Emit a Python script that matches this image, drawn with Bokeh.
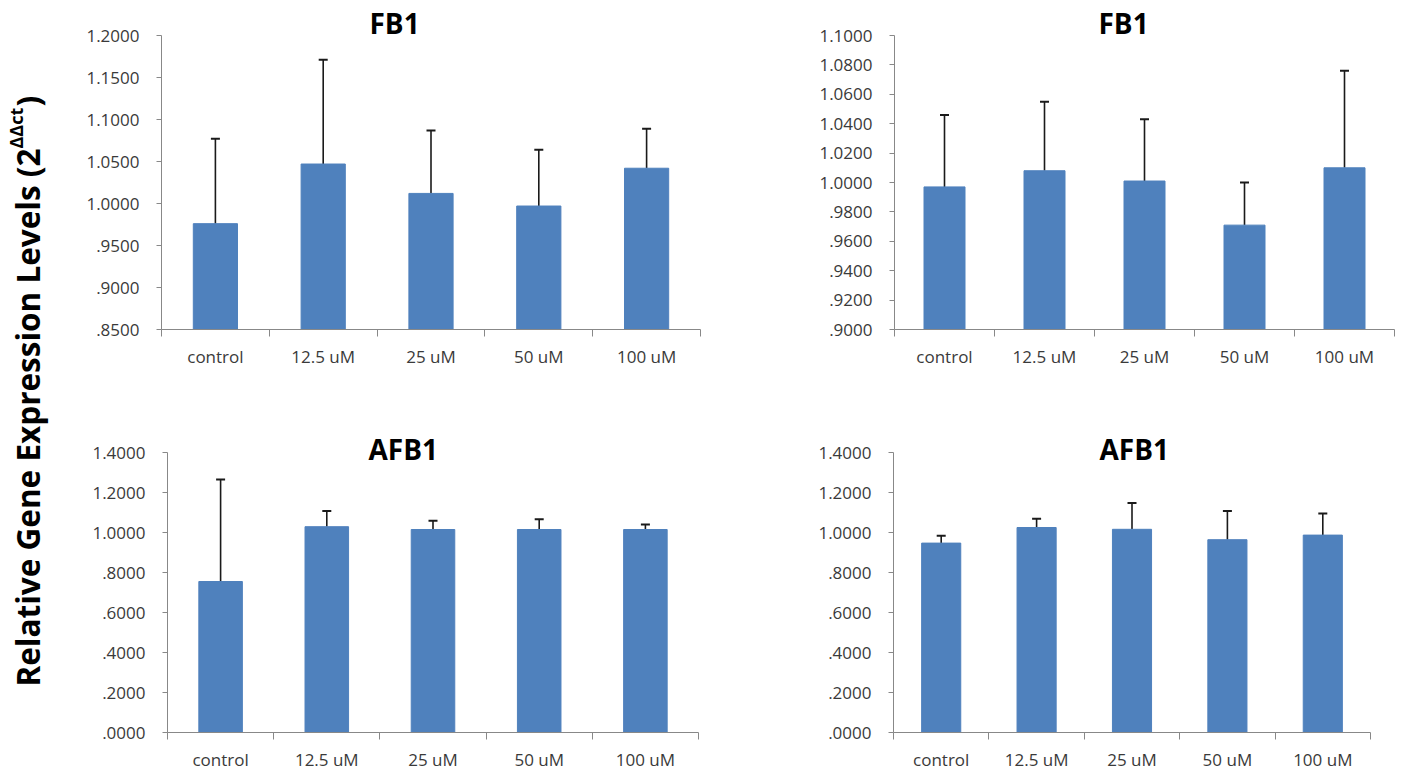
import math
from bokeh.plotting import figure
from bokeh.models import (ColumnDataSource, Range1d, LinearAxis, FixedTicker,
                          Whisker, TeeHead, Label, Title)
from bokeh.layouts import row, column
from bokeh.embed import file_html
from bokeh.resources import INLINE

# ---------------- data ----------------
categories = ["control", "12.5 uM", "25 uM", "50 uM", "100 uM"]

fb1_left_values = [0.976, 1.047, 1.012, 0.997, 1.042]
fb1_left_errors = [0.101, 0.124, 0.075, 0.067, 0.047]

fb1_right_values = [0.997, 1.008, 1.001, 0.971, 1.010]
fb1_right_errors = [0.049, 0.047, 0.042, 0.029, 0.066]

afb1_left_values = [0.755, 1.029, 1.015, 1.015, 1.015]
afb1_left_errors = [0.510, 0.079, 0.044, 0.051, 0.025]

afb1_right_values = [0.947, 1.025, 1.016, 0.964, 0.987]
afb1_right_errors = [0.037, 0.044, 0.132, 0.143, 0.108]

fb1_left_ticks = [0.85, 0.90, 0.95, 1.00, 1.05, 1.10, 1.15, 1.20]
fb1_left_tick_labels = [".8500", ".9000", ".9500", "1.0000", "1.0500", "1.1000", "1.1500", "1.2000"]
fb1_right_ticks = [0.90, 0.92, 0.94, 0.96, 0.98, 1.00, 1.02, 1.04, 1.06, 1.08, 1.10]
fb1_right_tick_labels = [".9000", ".9200", ".9400", ".9600", ".9800", "1.0000",
                         "1.0200", "1.0400", "1.0600", "1.0800", "1.1000"]
afb1_ticks = [0.0, 0.2, 0.4, 0.6, 0.8, 1.0, 1.2, 1.4]
afb1_tick_labels = [".0000", ".2000", ".4000", ".6000", ".8000", "1.0000", "1.2000", "1.4000"]

titles = ["FB1", "FB1", "AFB1", "AFB1"]
y_label_main = "Relative Gene Expression Levels (2"
y_label_sup = "\u0394\u0394ct"
y_label_close = ")"

# ---------------- style ----------------
BAR = "#4F81BD"
ERR = "#1a1a1a"
AXIS = "#888888"
TXT = "#3a3a3a"
FONT = "Open Sans"

n = len(categories)
positions = [i + 0.5 for i in range(n)]          # category slot centres
boundaries = [float(i) for i in range(n + 1)]    # category slot edges


def make_panel(title, values, errors, ticks, tick_labels, fw, fh,
               mb_left, mb_right, mb_top, mb_bottom, title_offset, title_standoff):
    ymin, ymax = ticks[0], ticks[-1]
    src = ColumnDataSource(dict(x=positions, cat=categories, val=values,
                                hi=[v + e for v, e in zip(values, errors)]))
    p = figure(x_range=Range1d(0, n), y_range=Range1d(ymin, ymax),
               frame_width=fw, frame_height=fh,
               min_border_left=mb_left, min_border_right=mb_right,
               min_border_top=mb_top, min_border_bottom=mb_bottom,
               x_axis_type=None,
               toolbar_location=None, output_backend="svg")
    p.outline_line_color = None
    p.xgrid.visible = False
    p.ygrid.visible = False
    p.background_fill_color = "white"
    p.border_fill_color = "white"

    p.vbar(x="x", top="val", bottom=ymin, width=0.41, source=src,
           fill_color=BAR, line_color=BAR)
    w = Whisker(source=src, base="x", lower="val", upper="hi", dimension="height",
                line_color=ERR, line_width=1.6,
                upper_head=TeeHead(size=9, line_color=ERR, line_width=2),
                lower_head=None)
    p.add_layout(w)

    # y axis
    ya = p.yaxis[0]
    ya.ticker = FixedTicker(ticks=ticks)
    ya.major_label_overrides = {t: l for t, l in zip(ticks, tick_labels)}
    ya.axis_line_color = AXIS
    ya.major_tick_line_color = AXIS
    ya.major_tick_in = 0
    ya.major_tick_out = 5
    ya.minor_tick_line_color = None
    ya.major_label_standoff = 17
    ya.major_label_text_font = FONT
    ya.major_label_text_font_size = "17px"
    ya.major_label_text_color = TXT

    # category axis: labels at slot centres, tick marks at slot edges
    xa = LinearAxis(ticker=FixedTicker(ticks=positions, minor_ticks=boundaries),
                    major_label_overrides={x: c for x, c in zip(positions, categories)})
    xa.axis_line_color = AXIS
    xa.major_tick_line_color = None
    xa.major_tick_in = 0
    xa.major_tick_out = 0
    xa.minor_tick_line_color = AXIS
    xa.minor_tick_in = 0
    xa.minor_tick_out = 7
    xa.major_label_standoff = 8
    xa.major_label_text_font = FONT
    xa.major_label_text_font_size = "17px"
    xa.major_label_text_color = TXT
    p.add_layout(xa, "below")

    p.title = Title(text=title, align="left", offset=title_offset,
                    standoff=title_standoff, text_font=FONT, text_font_style="bold",
                    text_font_size="28px", text_color="black")
    return p


tl = make_panel(titles[0], fb1_left_values, fb1_left_errors, fb1_left_ticks,
                fb1_left_tick_labels, 539, 294, 95, 90, 35, 69, 208, -12)
tr = make_panel(titles[1], fb1_right_values, fb1_right_errors, fb1_right_ticks,
                fb1_right_tick_labels, 500, 294, 104, 16, 35, 69, 204, -12)
bl = make_panel(titles[2], afb1_left_values, afb1_left_errors, afb1_ticks,
                afb1_tick_labels, 531, 280, 101, 92, 54, 38, 201, -30)
br = make_panel(titles[3], afb1_right_values, afb1_right_errors, afb1_ticks,
                afb1_tick_labels, 477, 280, 103, 40, 54, 38, 206, -30)

# shared rotated y-axis label
LH = 764
lab = figure(width=66, height=LH, toolbar_location=None, output_backend="svg",
             x_axis_location=None, y_axis_location=None, min_border=0)
lab.outline_line_color = None
lab.xgrid.visible = False
lab.ygrid.visible = False
ang = math.pi / 2
lab.add_layout(Label(x=27, y=LH - 148, x_units="screen", y_units="screen", angle=ang,
                     text=y_label_main, text_align="right", text_baseline="alphabetic",
                     text_font=FONT, text_font_style="bold", text_font_size="31.5px",
                     text_color="black"))
lab.add_layout(Label(x=15, y=LH - 148, x_units="screen", y_units="screen", angle=ang,
                     text=y_label_sup, text_align="left", text_baseline="alphabetic",
                     text_font=FONT, text_font_style="bold", text_font_size="18px",
                     text_color="black"))
lab.add_layout(Label(x=27, y=LH - 106, x_units="screen", y_units="screen", angle=ang,
                     text=y_label_close, text_align="left", text_baseline="alphabetic",
                     text_font=FONT, text_font_style="bold", text_font_size="31.5px",
                     text_color="black"))

layout = row(lab, column(row(tl, tr), row(bl, br)))

open("out.html", "w").write(file_html(layout, INLINE))
